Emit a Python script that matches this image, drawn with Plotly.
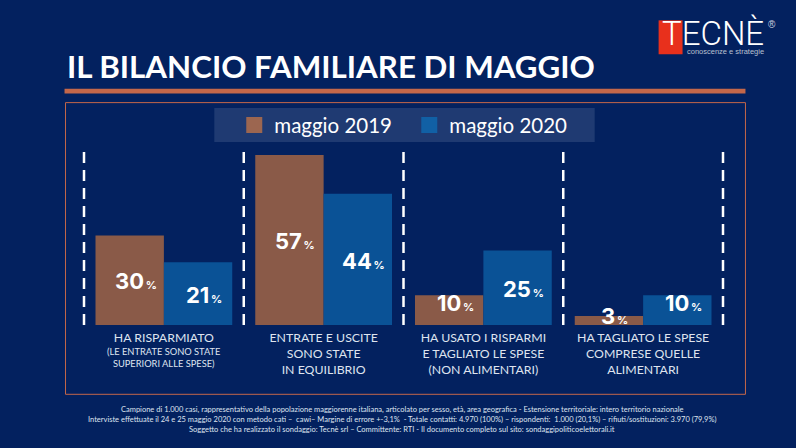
import plotly.graph_objects as go

categories = [
    "HA RISPARMIATO",
    "ENTRATE E USCITE<br>SONO STATE<br>IN EQUILIBRIO",
    "HA USATO I RISPARMI<br>E TAGLIATO LE SPESE<br>(NON ALIMENTARI)",
    "HA TAGLIATO LE SPESE<br>COMPRESE QUELLE<br>ALIMENTARI",
]
subtitle_first = "(LE ENTRATE SONO STATE<br>SUPERIORI ALLE SPESE)"
maggio_2019 = [30, 57, 10, 3]
maggio_2020 = [21, 44, 25, 10]

footer = [
    "Campione di 1.000 casi, rappresentativo della popolazione maggiorenne italiana, articolato per sesso, età, area geografica - Estensione territoriale: intero territorio nazionale",
    "Interviste effettuate il 24 e 25 maggio 2020 con metodo cati –  cawi– Margine di errore +-3,1%  - Totale contatti: 4.970 (100%) – rispondenti:  1.000 (20,1%) – rifiuti/sostituzioni: 3.970 (79,9%)",
    "Soggetto che ha realizzato il sondaggio: Tecnè srl – Committente: RTI - Il documento completo sul sito: sondaggipoliticoelettorali.it",
]

BG = "#03215f"
BROWN = "#8a5a48"
BLUE = "#0a5296"
ORANGE = "#c4674a"

# plot area in pixels
L, R, T, B = 83.5, 723.5, 146, 325.5


def px(x):
    return (x - L) / (R - L)


def py(y):
    return (B - y) / (B - T)


fig = go.Figure()
fig.add_trace(go.Bar(x=categories, y=maggio_2019, marker_color=BROWN, marker_line_width=0, showlegend=False))
fig.add_trace(go.Bar(x=categories, y=maggio_2020, marker_color=BLUE, marker_line_width=0, showlegend=False))

# empty traces only for the bigger legend squares
fig.add_trace(go.Scatter(x=[None], y=[None], mode="markers", name="maggio 2019",
                         marker=dict(symbol="square", size=16, color="#9c6650")))
fig.add_trace(go.Scatter(x=[None], y=[None], mode="markers", name="maggio 2020",
                         marker=dict(symbol="square", size=16, color="#1160a5")))

shapes = [
    dict(type="rect", xref="paper", yref="paper", x0=px(65), x1=px(746), y0=py(102.5), y1=py(395),
         line=dict(color=ORANGE, width=1), layer="below"),
    dict(type="rect", xref="paper", yref="paper", x0=px(64), x1=px(746), y0=py(88.7), y1=py(93.3),
         line_width=0, fillcolor=ORANGE, layer="below"),
    dict(type="rect", xref="paper", yref="paper", x0=px(214), x1=px(595), y0=py(108), y1=py(142),
         line_width=0, fillcolor="#1f3a72", layer="below"),
    dict(type="rect", xref="paper", yref="paper", x0=px(659), x1=px(683), y0=py(20), y1=py(54),
         line_width=0, fillcolor="#e8301c", layer="below"),
]
for i in range(5):
    # paper ref, a data ref clips the outer two lines
    shapes.append(dict(type="line", xref="paper", yref="paper", x0=i / 4, x1=i / 4, y0=0, y1=1,
                       line=dict(color="white", width=2.5, dash="11px,7px")))

annotations = []
# labels sit a bit right of the bar centre, and higher on the short bars
lift = [[-1, -1, 7, 5], [-1, -2, -1, 7]]
for s, values in enumerate([maggio_2019, maggio_2020]):
    for i, v in enumerate(values):
        annotations.append(dict(
            x=i, y=v / 2, xref="x", yref="y", showarrow=False,
            xshift=(-34.2 if s == 0 else 34.2) + 6, yshift=lift[s][i],
            text=f"{v}<span style='font-size:11px'>\u2009%</span>",
            font=dict(family="Inter", size=22, color="white", weight=700),
        ))

annotations.append(dict(x=0, y=py(358), xref="x", yref="paper", showarrow=False, yanchor="middle",
                        text=subtitle_first, font=dict(family="Lato", size=9.3, color="#dfe4ef")))

for k, line in enumerate(footer):
    annotations.append(dict(
        x=px(402), y=py(410 + k * 10), xref="paper", yref="paper", showarrow=False,
        xanchor="center", yanchor="middle",
        text=line, font=dict(family="Lato", size=7.5, color="#dfe4ef"),
    ))

# logo
annotations.append(dict(x=px(660), y=py(33), xref="paper", yref="paper", showarrow=False,
                        xanchor="left", yanchor="middle",
                        text="TECNÈ", font=dict(family="Roboto", size=33, color="white", weight=300)))
annotations.append(dict(x=px(685), y=py(51), xref="paper", yref="paper", showarrow=False,
                        xanchor="left", yanchor="middle",
                        text="conoscenze e strategie", font=dict(family="Liberation Sans", size=7.5, color="#b9c0d0")))
annotations.append(dict(x=px(773), y=py(24), xref="paper", yref="paper", showarrow=False,
                        xanchor="center", yanchor="middle",
                        text="®", font=dict(family="Liberation Sans", size=10, color="#d0d5e0")))

fig.update_layout(
    width=796, height=448, autosize=False,
    margin=dict(l=L, r=796 - R, t=T, b=448 - B, pad=0),
    paper_bgcolor=BG, plot_bgcolor=BG,
    barmode="group", bargap=0.144, bargroupgap=0,
    title=dict(text="IL BILANCIO FAMILIARE DI MAGGIO", x=67 / 796, xanchor="left", y=1 - 67 / 448, yanchor="middle",
               font=dict(family="Lato", size=31.3, color="white", weight=700)),
    legend=dict(orientation="h", x=px(234), y=py(125), xanchor="left", yanchor="middle",
                bgcolor="rgba(0,0,0,0)", font=dict(family="Lato", size=20.5, color="white"),
                entrywidth=130, itemclick=False, itemdoubleclick=False),
    shapes=shapes, annotations=annotations,
)
fig.update_xaxes(type="category", range=[-0.5, 3.5], showgrid=False, zeroline=False, showline=False,
                 ticks="outside", ticklen=1, tickcolor=BG,
                 tickangle=0, tickfont=dict(family="Lato", size=12.3, color="#dfe4ef"))
fig.update_yaxes(range=[0, 60], visible=False, showgrid=False)

fig.write_html("out.html", config={"displayModeBar": False},
               post_script="document.body.style.margin='0';")
